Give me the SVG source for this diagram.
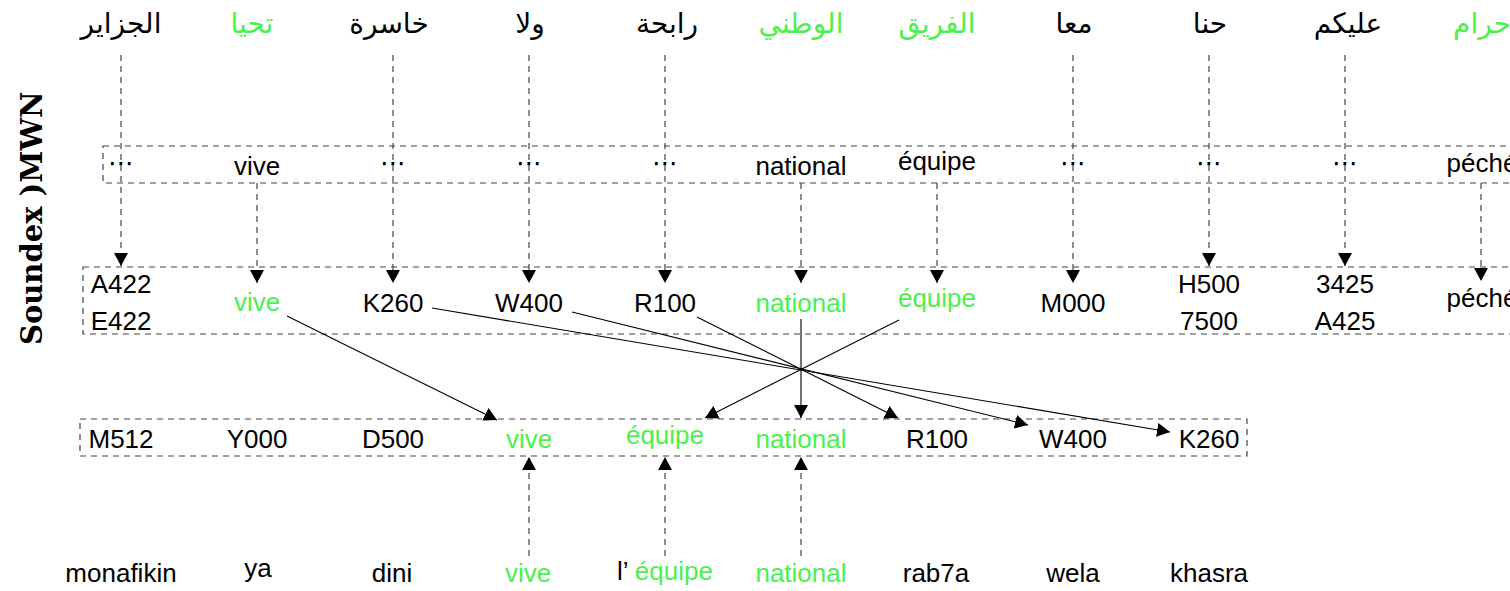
<svg xmlns="http://www.w3.org/2000/svg" width="1510" height="591" viewBox="0 0 1510 591">
<style>
.ar{font-family:"DejaVu Sans",sans-serif;font-size:28px;text-anchor:middle;fill:#000}
.t{font-family:"Liberation Sans",Arial,sans-serif;font-size:26px;text-anchor:middle;fill:#000}
.g{fill:#4cf04c}
.dots{font-family:"DejaVu Sans",sans-serif;font-size:26px;text-anchor:middle;fill:#000}
.box{fill:none;stroke:#444;stroke-width:1.2;stroke-dasharray:6 5}
.dl{fill:none;stroke:#444;stroke-width:1.2;stroke-dasharray:6 5;marker-end:url(#ah)}
.sl{fill:none;stroke:#000;stroke-width:1.1;marker-end:url(#ah)}
.lbl{font-family:"DejaVu Serif",serif;font-weight:bold;font-size:29px;fill:#000}
</style>
<defs>
<marker id="ah" markerUnits="userSpaceOnUse" markerWidth="14" markerHeight="14" refX="13" refY="7" orient="auto"><path d="M0,0 L13,7 L0,14 z" fill="#000"/></marker>
</defs>
<rect width="1510" height="591" fill="#fff"/>

<g id="axis-label"><text class="lbl" transform="translate(42,345) rotate(-90)">Soundex )MWN</text></g>

<g id="boxes">
<rect id="box-row1" class="box" x="103" y="146" width="1460" height="37"/>
<rect id="box-row2" class="box" x="83" y="267" width="1480" height="67"/>
<rect id="box-row3" class="box" x="80" y="419" width="1167" height="37"/>
</g>

<g id="arabic-row">
<g id="ar1"><text class="ar" x="121" y="33">الجزاير</text></g>
<g id="ar2"><text class="ar g" x="252" y="33">تحيا</text></g>
<g id="ar3"><text class="ar" x="389" y="33">خاسرة</text></g>
<g id="ar4"><text class="ar" x="530" y="33">ولا</text></g>
<g id="ar5"><text class="ar" x="667" y="33">رابحة</text></g>
<g id="ar6"><text class="ar g" x="801" y="33">الوطني</text></g>
<g id="ar7"><text class="ar g" x="937" y="33">الفريق</text></g>
<g id="ar8"><text class="ar" x="1074" y="33">معا</text></g>
<g id="ar9"><text class="ar" x="1210" y="33">حنا</text></g>
<g id="ar10"><text class="ar" x="1348" y="33">عليكم</text></g>
<g id="ar11"><text class="ar g" x="1482" y="33">حرام</text></g>
</g>

<g id="row1">
<g id="r1c1"><text class="dots" x="121" y="172">⋯</text></g>
<g id="r1c2"><text class="t" x="257" y="175">vive</text></g>
<g id="r1c3"><text class="dots" x="393" y="172">⋯</text></g>
<g id="r1c4"><text class="dots" x="529" y="172">⋯</text></g>
<g id="r1c5"><text class="dots" x="665" y="172">⋯</text></g>
<g id="r1c6"><text class="t" x="801" y="175">national</text></g>
<g id="r1c7"><text class="t" x="937" y="170">équipe</text></g>
<g id="r1c8"><text class="dots" x="1073" y="172">⋯</text></g>
<g id="r1c9"><text class="dots" x="1209" y="172">⋯</text></g>
<g id="r1c10"><text class="dots" x="1345" y="172">⋯</text></g>
<g id="r1c11"><text class="t" x="1482" y="172">péché</text></g>
</g>

<g id="row2">
<g id="r2c1"><text class="t" x="121" y="293">A422</text><text class="t" x="121" y="330">E422</text></g>
<g id="r2c2"><text class="t g" x="257" y="311">vive</text></g>
<g id="r2c3"><text class="t" x="393" y="312">K260</text></g>
<g id="r2c4"><text class="t" x="529" y="312">W400</text></g>
<g id="r2c5"><text class="t" x="665" y="312">R100</text></g>
<g id="r2c6"><text class="t g" x="801" y="312">national</text></g>
<g id="r2c7"><text class="t g" x="937" y="307">équipe</text></g>
<g id="r2c8"><text class="t" x="1073" y="312">M000</text></g>
<g id="r2c9"><text class="t" x="1209" y="293">H500</text><text class="t" x="1209" y="330">7500</text></g>
<g id="r2c10"><text class="t" x="1345" y="293">3425</text><text class="t" x="1345" y="330">A425</text></g>
<g id="r2c11"><text class="t" x="1482" y="307">péché</text></g>
</g>

<g id="row3">
<g id="r3c1"><text class="t" x="121" y="448">M512</text></g>
<g id="r3c2"><text class="t" x="257" y="448">Y000</text></g>
<g id="r3c3"><text class="t" x="393" y="448">D500</text></g>
<g id="r3c4"><text class="t g" x="529" y="448">vive</text></g>
<g id="r3c5"><text class="t g" x="665" y="444">équipe</text></g>
<g id="r3c6"><text class="t g" x="801" y="448">national</text></g>
<g id="r3c7"><text class="t" x="937" y="448">R100</text></g>
<g id="r3c8"><text class="t" x="1073" y="448">W400</text></g>
<g id="r3c9"><text class="t" x="1209" y="448">K260</text></g>
</g>

<g id="row4">
<g id="r4c1"><text class="t" x="121" y="582">monafikin</text></g>
<g id="r4c2"><text class="t" x="258" y="577">ya</text></g>
<g id="r4c3"><text class="t" x="392" y="582">dini</text></g>
<g id="r4c4"><text class="t g" x="528" y="582">vive</text></g>
<g id="r4c5"><text class="t" x="665" y="580">l’ <tspan class="g">équipe</tspan></text></g>
<g id="r4c6"><text class="t g" x="801" y="582">national</text></g>
<g id="r4c7"><text class="t" x="936" y="582">rab7a</text></g>
<g id="r4c8"><text class="t" x="1073" y="582">wela</text></g>
<g id="r4c9"><text class="t" x="1209" y="582">khasra</text></g>
</g>

<g id="connectors">
<line class="dl" x1="121" y1="55" x2="121" y2="266"/>
<line class="dl" x1="393" y1="55" x2="393" y2="283"/>
<line class="dl" x1="529" y1="55" x2="529" y2="283"/>
<line class="dl" x1="665" y1="55" x2="665" y2="283"/>
<line class="dl" x1="1073" y1="55" x2="1073" y2="283"/>
<line class="dl" x1="1209" y1="55" x2="1209" y2="266"/>
<line class="dl" x1="1345" y1="55" x2="1345" y2="266"/>
<line class="dl" x1="257" y1="183" x2="257" y2="283"/>
<line class="dl" x1="801" y1="183" x2="801" y2="283"/>
<line class="dl" x1="937" y1="183" x2="937" y2="283"/>
<line class="dl" x1="1481" y1="183" x2="1481" y2="281"/>
<line class="sl" x1="287" y1="316" x2="497" y2="420"/>
<line class="sl" x1="432" y1="308" x2="1170" y2="432"/>
<line class="sl" x1="572" y1="312" x2="1028" y2="425"/>
<line class="sl" x1="697" y1="317" x2="898" y2="418"/>
<line class="sl" x1="801" y1="319" x2="801" y2="418"/>
<line class="sl" x1="899" y1="320" x2="705" y2="418"/>
<line class="dl" x1="529" y1="556" x2="529" y2="457"/>
<line class="dl" x1="665" y1="556" x2="665" y2="457"/>
<line class="dl" x1="801" y1="556" x2="801" y2="457"/>
</g>
</svg>
